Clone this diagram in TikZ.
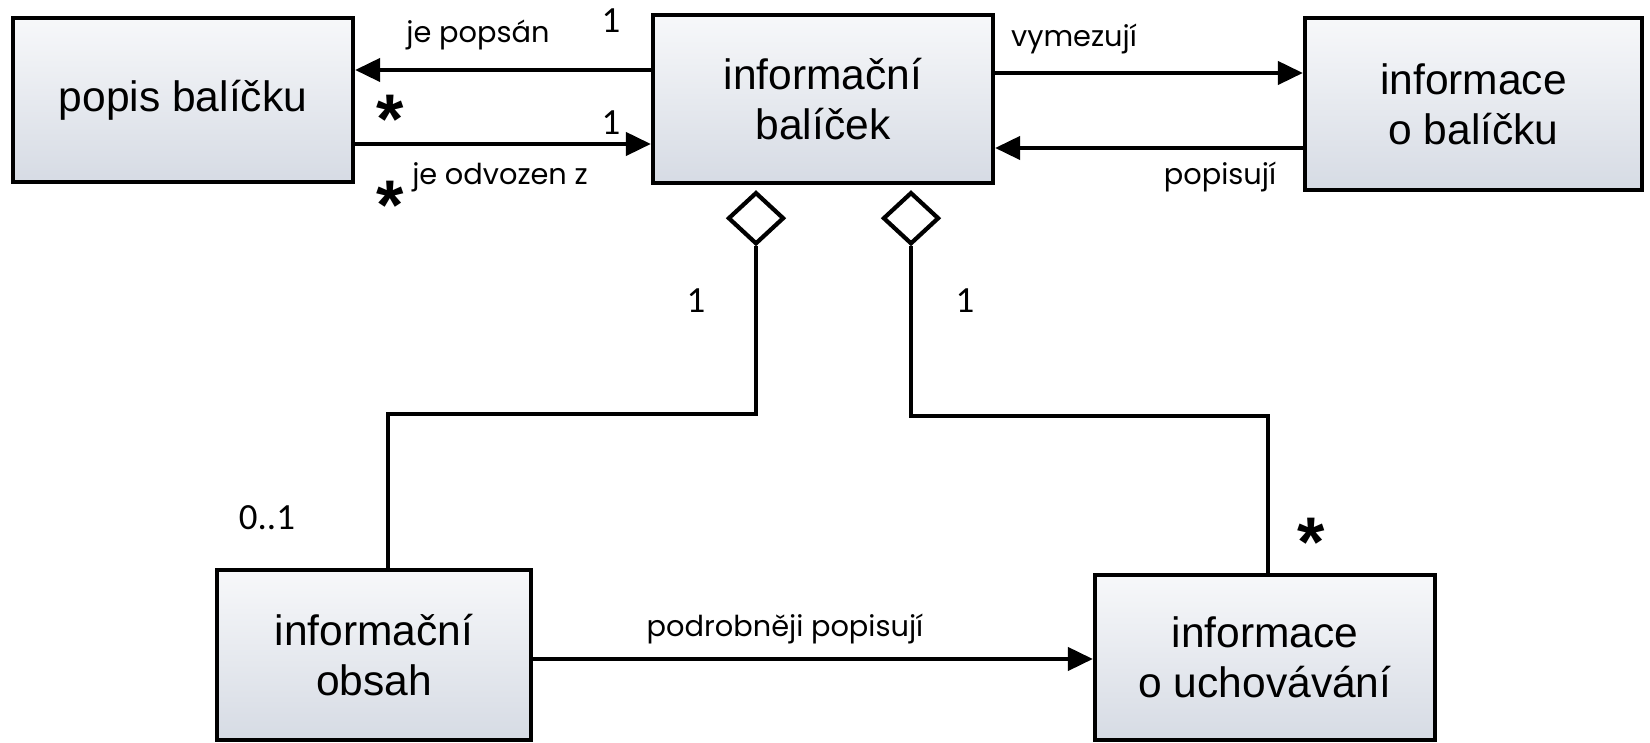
\documentclass[tikz,border=0pt]{standalone}
\usepackage{fontspec}
\setmainfont{Liberation Sans}
\newfontfamily\labelfont{Poppins}
\newfontfamily\numfont{Carlito}
\usetikzlibrary{shapes.geometric,arrows.meta}

\definecolor{boxtop}{RGB}{247,248,250}
\definecolor{boxbot}{RGB}{214,219,228}

\tikzset{
  trida/.style={draw, line width=1.2pt, top color=boxtop, bottom color=boxbot,
    align=center, inner sep=0pt, font=\fontsize{12.1}{14.2}\selectfont},
  vazba/.style={line width=1.2pt, -{Triangle[length=2.5mm,width=2.3mm]}},
  spoj/.style={line width=1.2pt},
  agregace/.style={diamond, draw, fill=white, line width=1.2pt,
    minimum width=5.6mm, minimum height=5.2mm, inner sep=0pt},
  popisek/.style={anchor=base, font=\labelfont\fontsize{8.2}{10}\selectfont},
  nasobnost/.style={anchor=base, font=\numfont\fontsize{10.5}{12}\selectfont},
  hvezda/.style={inner sep=0pt, font=\fontsize{20}{20}\selectfont\bfseries}
}

\begin{document}
\begin{tikzpicture}
  \useasboundingbox (0,0) rectangle (16.5,-7.43);

  % Draw the classes
  \node[trida, minimum width=3.40cm, minimum height=1.64cm] (popis) at (1.83,-1.00) {popis balíčku};
  \node[trida, minimum width=3.40cm, minimum height=1.68cm] (balicek) at (8.23,-0.99) {informační\\balíček};
  \node[trida, minimum width=3.37cm, minimum height=1.72cm] (infobal) at (14.735,-1.04) {informace\\o balíčku};
  \node[trida, minimum width=3.14cm, minimum height=1.70cm] (obsah) at (3.74,-6.55) {informační\\obsah};
  \node[trida, minimum width=3.40cm, minimum height=1.65cm] (uchov) at (12.65,-6.575) {informace\\o uchovávání};

  % Associations with arrows
  \draw[vazba] ([yshift=2.9mm]balicek.west) -- ([yshift=2.9mm]balicek.west -| popis.east);
  \draw[vazba] ([yshift=-4.5mm]balicek.west -| popis.east) -- ([yshift=-4.5mm]balicek.west);
  \draw[vazba] ([yshift=2.6mm]balicek.east) -- ([yshift=2.6mm]balicek.east -| infobal.west);
  \draw[vazba] ([yshift=-4.9mm]balicek.east -| infobal.west) -- ([yshift=-4.9mm]balicek.east);
  \draw[vazba] ([yshift=-0.4mm]obsah.east) -- ([yshift=-0.4mm]obsah.east -| uchov.west);

  % Aggregations
  \node[agregace, anchor=north] (dobs) at ([xshift=-6.7mm,yshift=-0.5mm]balicek.south) {};
  \node[agregace, anchor=north] (duch) at ([xshift=8.8mm,yshift=-0.5mm]balicek.south) {};
  \draw[spoj] (dobs.south) -- ++(0,-1.68) -| ([xshift=1.4mm]obsah.north);
  \draw[spoj] (duch.south) -- ++(0,-1.70) -| ([xshift=0.3mm]uchov.north);

  % Association names
  \node[popisek] (tpopsan) at (4.78,-0.43) {je popsán};
  \node[popisek] (todvozen) at (5.00,-1.85) {je odvozen z};
  \node[popisek] (tvymezuji) at (10.74,-0.47) {vymezují};
  \node[popisek] (tpopisuji) at (12.20,-1.85) {popisují};
  \node[popisek] (tpodrobneji) at (7.85,-6.37) {podrobněji popisují};

  % Multiplicities
  \node[nasobnost] (n1) at (6.11,-0.33) {1};
  \node[nasobnost] (n2) at (6.11,-1.35) {1};
  \node[nasobnost] (n3) at (6.96,-3.13) {1};
  \node[nasobnost] (n4) at (9.65,-3.13) {1};
  \node[nasobnost] (n5) at (2.67,-5.30) {0..1};
  \node[hvezda] (h1) at (3.90,-1.19) {*};
  \node[hvezda] (h2) at (3.90,-2.05) {*};
  \node[hvezda] (h3) at (13.11,-5.42) {*};
\end{tikzpicture}
\end{document}
